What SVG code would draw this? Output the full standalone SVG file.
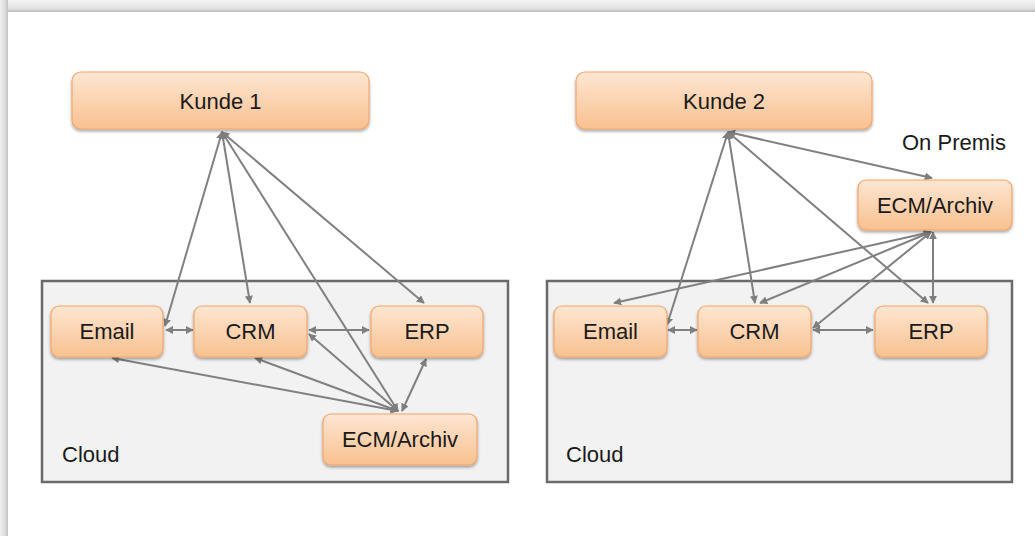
<svg xmlns="http://www.w3.org/2000/svg" width="1035" height="536" viewBox="0 0 1035 536">
<defs>
<linearGradient id="topShade" x1="0" y1="0" x2="0" y2="1">
<stop offset="0" stop-color="#f4f4f4"/><stop offset="0.7" stop-color="#e2e2e2"/><stop offset="1" stop-color="#b8b8b8"/>
</linearGradient>
<linearGradient id="leftShade" x1="0" y1="0" x2="1" y2="0">
<stop offset="0" stop-color="#f0f0f0"/><stop offset="0.6" stop-color="#dcdcdc"/><stop offset="1" stop-color="#c4c4c4"/>
</linearGradient>
<linearGradient id="nodeFill" x1="0" y1="0" x2="0" y2="1">
<stop offset="0" stop-color="#fde6d2"/><stop offset="1" stop-color="#f9c190"/>
</linearGradient>
<filter id="sh" x="-10%" y="-20%" width="120%" height="150%">
<feGaussianBlur in="SourceAlpha" stdDeviation="1.5"/>
<feOffset dx="0" dy="2" result="b"/>
<feComponentTransfer><feFuncA type="linear" slope="0.35"/></feComponentTransfer>
<feMerge><feMergeNode/><feMergeNode in="SourceGraphic"/></feMerge>
</filter>
<marker id="ah" viewBox="0 0 10 10" refX="9" refY="5" markerWidth="4" markerHeight="4" orient="auto-start-reverse" markerUnits="strokeWidth">
<path d="M0,0 L10,5 L0,10 z" fill="#7f7f7f"/>
</marker>
</defs>
<style>
.node rect{fill:url(#nodeFill);stroke:#f3a66a;stroke-width:1.2;filter:url(#sh)}
text{font-family:"Liberation Sans",Arial,sans-serif;font-size:22px;fill:#1a1a1a}
.lbl{text-anchor:middle}
.cloud{fill:#f2f2f2;stroke:#6a6a6a;stroke-width:2.5}
.conn line{stroke:#808080;stroke-width:2;marker-start:url(#ah);marker-end:url(#ah)}
</style>
<rect x="0" y="0" width="1035" height="536" fill="#ffffff"/>
<rect x="0" y="0" width="1035" height="12" fill="url(#topShade)"/>
<rect x="0" y="0" width="8" height="536" fill="url(#leftShade)"/>

<g id="cloud1">
<rect class="cloud" x="42" y="281" width="466" height="201"/>
<text x="62" y="462">Cloud</text>
</g>
<g id="cloud2">
<rect class="cloud" x="547" y="281" width="465" height="201"/>
<text x="566" y="462">Cloud</text>
</g>
<text id="onpremis" x="902" y="150">On Premis</text>

<g id="connectors" class="conn">
<line x1="222" y1="132" x2="165" y2="326"/>
<line x1="222" y1="132" x2="250" y2="303"/>
<line x1="222" y1="132" x2="398" y2="411"/>
<line x1="222" y1="132" x2="424" y2="303"/>
<line x1="166" y1="330" x2="193" y2="330"/>
<line x1="309" y1="330" x2="369" y2="330"/>
<line x1="398" y1="411" x2="112" y2="358"/>
<line x1="398" y1="411" x2="255" y2="358"/>
<line x1="398" y1="411" x2="309" y2="334"/>
<line x1="402" y1="411" x2="426" y2="359"/>

<line x1="728" y1="132" x2="667" y2="325"/>
<line x1="728" y1="132" x2="755" y2="303"/>
<line x1="728" y1="132" x2="928" y2="303"/>
<line x1="728" y1="132" x2="932" y2="178"/>
<line x1="931" y1="232" x2="614" y2="303"/>
<line x1="931" y1="232" x2="760" y2="303"/>
<line x1="931" y1="232" x2="813" y2="328"/>
<line x1="933" y1="232" x2="933" y2="303"/>
<line x1="668" y1="330" x2="697" y2="330"/>
<line x1="813" y1="330" x2="873" y2="330"/>
</g>

<g id="kunde1" class="node"><rect x="72" y="72" width="297" height="57" rx="9"/><text class="lbl" x="220.5" y="109">Kunde 1</text></g>
<g id="email1" class="node"><rect x="51" y="306" width="112" height="51" rx="8"/><text class="lbl" x="107" y="339">Email</text></g>
<g id="crm1" class="node"><rect x="194" y="306" width="113" height="51" rx="8"/><text class="lbl" x="250.5" y="339">CRM</text></g>
<g id="erp1" class="node"><rect x="371" y="306" width="112" height="51" rx="8"/><text class="lbl" x="427" y="339">ERP</text></g>
<g id="ecm1" class="node"><rect x="323" y="414" width="154" height="51" rx="8"/><text class="lbl" x="400" y="447">ECM/Archiv</text></g>

<g id="kunde2" class="node"><rect x="576" y="72" width="296" height="57" rx="9"/><text class="lbl" x="724" y="109">Kunde 2</text></g>
<g id="ecm2" class="node"><rect x="858" y="180" width="154" height="50" rx="8"/><text class="lbl" x="935" y="213">ECM/Archiv</text></g>
<g id="email2" class="node"><rect x="554" y="306" width="113" height="51" rx="8"/><text class="lbl" x="610.5" y="339">Email</text></g>
<g id="crm2" class="node"><rect x="698" y="306" width="113" height="51" rx="8"/><text class="lbl" x="754.5" y="339">CRM</text></g>
<g id="erp2" class="node"><rect x="875" y="306" width="112" height="51" rx="8"/><text class="lbl" x="931" y="339">ERP</text></g>
</svg>
